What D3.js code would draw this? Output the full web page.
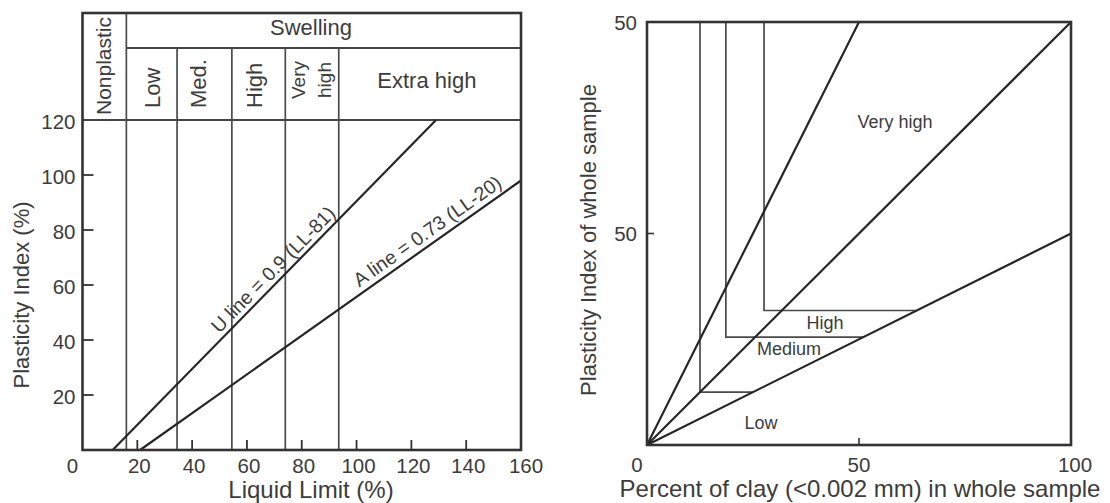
<!DOCTYPE html>
<html>
<head>
<meta charset="utf-8">
<script src="https://cdn.jsdelivr.net/npm/d3@7"></script>
<style>
  html, body { margin: 0; padding: 0; background: #fff; }
  svg { display: block; font-family: "Liberation Sans", Arial, Helvetica, sans-serif; }
  text { fill: #3c3c3c; }
</style>
</head>
<body>
<svg id="chart" width="1110" height="503"></svg>
<script>
// ---------- Left chart: swelling potential from the plasticity chart ----------
const llTicks = [20, 40, 60, 80, 100, 120, 140, 160];
const llTickLabels = ["20", "40", "60", "80", "100", "120", "140", "160"];
const piTicks = [20, 40, 60, 80, 100, 120];
const piTickLabels = ["20", "40", "60", "80", "100", "120"];
// liquid-limit boundaries between the classes (Nonplastic | Low | Med. | High | Very high | Extra high)
const swellBounds = [16, 34.5, 54.5, 74, 93.5];
const swellClasses = ["Low", "Med.", "High", "Very high", "Extra high"];
const uLine = [[11, 0], [129, 120]];   // [LL, PI]
const aLine = [[21, 0], [160, 98]];
const uLabel = "U line = 0.9 (LL-81)";
const aLabel = "A line = 0.73 (LL-20)";

// ---------- Right chart: activity chart ----------
const clayTicks = [0, 50, 100];
const clayTickLabels = ["0", "50", "100"];
const piWholeTicks = [50, 100];
const piWholeTickLabels = ["50", "50"];
// rays from the origin, given by their end points [clay %, PI]
const activityRays = [[50, 100], [100, 100], [100, 50]];
// class boundaries: vertical at clay %, turning at PI, running to the lowest ray
const stepClay = [12.5, 18.6, 27.6];
const stepPI = [12.5, 25.5, 31.8];
const regionNames = ["Very high", "High", "Medium", "Low"];

const svg = d3.select("#chart");
const ink = "#262626";

// ===== Left chart =====
const xL = d3.scaleLinear().domain([0, 160]).range([82.5, 521]);
const yL = d3.scaleLinear().domain([0, 120]).range([450, 120]);
const headTop = 13, swellLine = 48;
const gL = svg.append("g");

// header lines
gL.append("line").attr("x1", xL(0)).attr("x2", xL(160)).attr("y1", yL(120)).attr("y2", yL(120))
  .attr("stroke", "#444").attr("stroke-width", 2);
gL.append("line").attr("x1", xL(swellBounds[0])).attr("x2", xL(160)).attr("y1", swellLine).attr("y2", swellLine)
  .attr("stroke", "#444").attr("stroke-width", 1.8);

// class boundaries
gL.selectAll("line.bound").data(swellBounds).join("line")
  .attr("class", "bound")
  .attr("x1", d => xL(d)).attr("x2", d => xL(d))
  .attr("y1", (d, i) => i === 0 ? headTop : swellLine)
  .attr("y2", yL(0))
  .attr("stroke", "#4a4a4a").attr("stroke-width", 1.7);

// U and A lines
const lineL = d3.line().x(d => xL(d[0])).y(d => yL(d[1]));
[uLine, aLine].forEach(seg => {
  gL.append("path").attr("d", lineL(seg)).attr("fill", "none")
    .attr("stroke", ink).attr("stroke-width", 2.2);
});

// labels along the lines
function lineLabel(seg, at, text, off) {
  const [p0, p1] = seg;
  const sx0 = xL(p0[0]), sy0 = yL(p0[1]), sx1 = xL(p1[0]), sy1 = yL(p1[1]);
  const ang = Math.atan2(sy1 - sy0, sx1 - sx0) * 180 / Math.PI;
  const t = (at - p0[0]) / (p1[0] - p0[0]);
  const px = sx0 + t * (sx1 - sx0), py = sy0 + t * (sy1 - sy0);
  gL.append("text")
    .attr("transform", `translate(${px},${py}) rotate(${ang})`)
    .attr("y", -off)
    .attr("text-anchor", "middle")
    .style("font-size", "19.5px")
    .text(text);
}
lineLabel(uLine, 72.6, uLabel, 5);
lineLabel(aLine, 128.5, aLabel, 6);

// frame
gL.append("rect").attr("x", xL(0)).attr("y", headTop)
  .attr("width", xL(160) - xL(0)).attr("height", yL(0) - headTop)
  .attr("fill", "none").attr("stroke", "#333").attr("stroke-width", 2.6);

// inward ticks
gL.selectAll("line.xt").data(llTicks.filter(d => d < 160)).join("line")
  .attr("x1", d => xL(d)).attr("x2", d => xL(d)).attr("y1", yL(0)).attr("y2", yL(0) - 10)
  .attr("stroke", "#333").attr("stroke-width", 1.8);
gL.selectAll("line.yt").data(piTicks.filter(d => d < 120)).join("line")
  .attr("x1", xL(0)).attr("x2", xL(0) + 11).attr("y1", d => yL(d)).attr("y2", d => yL(d))
  .attr("stroke", "#333").attr("stroke-width", 1.8);

// tick labels
gL.selectAll("text.xl").data(llTicks).join("text")
  .attr("x", d => xL(d) + (d === 160 ? 5 : 2)).attr("y", 465)
  .attr("text-anchor", "middle").attr("dominant-baseline", "central")
  .style("font-size", "20.5px").text((d, i) => llTickLabels[i]);
gL.append("text").attr("x", xL(0) - 10).attr("y", 465)
  .attr("text-anchor", "middle").attr("dominant-baseline", "central")
  .style("font-size", "20.5px").text("0");
gL.selectAll("text.yl").data(piTicks).join("text")
  .attr("x", xL(0) - 7).attr("y", d => yL(d) + 1)
  .attr("text-anchor", "end").attr("dominant-baseline", "central")
  .style("font-size", "20.5px").text((d, i) => piTickLabels[i]);

// axis titles
gL.append("text").attr("x", 311).attr("y", 498).attr("text-anchor", "middle")
  .style("font-size", "24px").text("Liquid Limit (%)");
gL.append("text").attr("transform", "translate(29,295) rotate(-90)")
  .attr("text-anchor", "middle").style("font-size", "22px").text("Plasticity Index (%)");

// header texts
gL.append("text").attr("x", 311).attr("y", 35).attr("text-anchor", "middle")
  .style("font-size", "22px").text("Swelling");
gL.append("text").attr("transform", `translate(111,66) rotate(-90)`)
  .attr("text-anchor", "middle")
  .style("font-size", "21px").text("Nonplastic");
const rotPos = [
  { x: 159.5, y: 108 },
  { x: 206, y: 108 },
  { x: 262, y: 108 }
];
swellClasses.slice(0, 3).forEach((c, i) => {
  gL.append("text").attr("transform", `translate(${rotPos[i].x},${rotPos[i].y}) rotate(-90)`)
    .style("font-size", "22px").text(c);
});
const vh = swellClasses[3].split(" ");
gL.append("text").attr("transform", "translate(305,80) rotate(-90)")
  .attr("text-anchor", "middle").style("font-size", "19px").text(vh[0]);
gL.append("text").attr("transform", "translate(331,80) rotate(-90)")
  .attr("text-anchor", "middle").style("font-size", "19px").text(vh[1]);
gL.append("text").attr("x", (xL(swellBounds[4]) + xL(160)) / 2 - 3).attr("y", 88)
  .attr("text-anchor", "middle").style("font-size", "22px").text(swellClasses[4]);

// ===== Right chart =====
const xR = d3.scaleLinear().domain([0, 100]).range([647, 1071]);
const yR = d3.scaleLinear().domain([0, 100]).range([445, 22]);
const gR = svg.append("g");

// class boundary steps
stepClay.forEach((c, i) => {
  const p = stepPI[i];
  const endClay = p / (activityRays[2][1] / activityRays[2][0]);
  const pts = [[c, 100], [c, p], [endClay, p]];
  gR.append("path").attr("d", d3.line().x(d => xR(d[0])).y(d => yR(d[1]))(pts))
    .attr("fill", "none").attr("stroke", "#4a4a4a").attr("stroke-width", 1.7);
});

// rays from the origin
gR.selectAll("line.ray").data(activityRays).join("line")
  .attr("x1", xR(0)).attr("y1", yR(0))
  .attr("x2", d => xR(d[0])).attr("y2", d => yR(d[1]))
  .attr("stroke", ink).attr("stroke-width", 2.2);

// frame
gR.append("rect").attr("x", xR(0)).attr("y", yR(100))
  .attr("width", xR(100) - xR(0)).attr("height", yR(0) - yR(100))
  .attr("fill", "none").attr("stroke", "#333").attr("stroke-width", 2.6);

// inward ticks at the midpoints
gR.append("line").attr("x1", xR(50)).attr("x2", xR(50)).attr("y1", yR(0)).attr("y2", yR(0) - 7)
  .attr("stroke", "#333").attr("stroke-width", 1.6);
gR.append("line").attr("x1", xR(0)).attr("x2", xR(0) + 7).attr("y1", yR(50)).attr("y2", yR(50))
  .attr("stroke", "#333").attr("stroke-width", 1.6);

// tick labels
gR.selectAll("text.xl").data(clayTicks).join("text")
  .attr("x", d => xR(d) + (d === 0 ? -10 : d === 100 ? 4 : 0)).attr("y", 464)
  .attr("text-anchor", "middle").attr("dominant-baseline", "central")
  .style("font-size", "20.5px").text((d, i) => clayTickLabels[i]);
gR.selectAll("text.yl").data(piWholeTicks).join("text")
  .attr("x", xR(0) - 10).attr("y", d => yR(d))
  .attr("text-anchor", "end").attr("dominant-baseline", "central")
  .style("font-size", "20.5px").text((d, i) => piWholeTickLabels[i]);

// axis titles
gR.append("text").attr("x", 860).attr("y", 497).attr("text-anchor", "middle")
  .style("font-size", "24px").text("Percent of clay (<0.002 mm) in whole sample");
gR.append("text").attr("transform", "translate(596,240) rotate(-90)")
  .attr("text-anchor", "middle").style("font-size", "22px").text("Plasticity Index of whole sample");

// region names
const regionAt = [[58.5, 76.4], [42, 28.9], [33.5, 22.6], [26.9, 5.1]];
regionNames.forEach((n, i) => {
  gR.append("text").attr("x", xR(regionAt[i][0])).attr("y", yR(regionAt[i][1]))
    .attr("text-anchor", "middle").attr("dominant-baseline", "central")
    .style("font-size", "18px").text(n);
});
</script>
</body>
</html>
